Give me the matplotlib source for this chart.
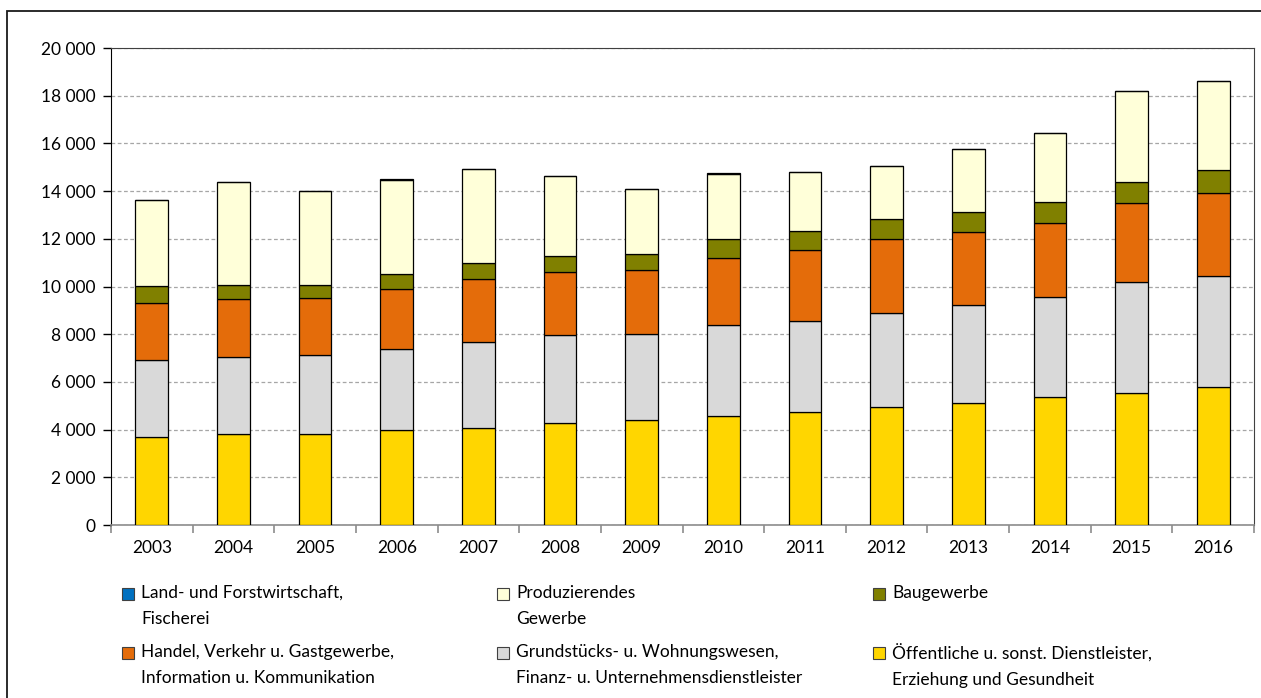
import matplotlib
matplotlib.use("Agg")
import matplotlib.pyplot as plt
import numpy as np
from matplotlib.patches import Rectangle
from matplotlib.ticker import FuncFormatter, FixedLocator

plt.rcParams["font.family"] = ["Lato", "DejaVu Sans"]

years = [str(y) for y in range(2003, 2017)]

# values (stack order bottom -> top)
oeffentliche = [3690, 3800, 3815, 3970, 4080, 4290, 4415, 4570, 4725, 4950, 5130, 5380, 5535, 5785]
grundstuecke = [3240, 3230, 3300, 3410, 3605, 3665, 3590, 3805, 3815, 3950, 4095, 4180, 4655, 4640]
handel = [2365, 2430, 2405, 2515, 2615, 2670, 2670, 2820, 2990, 3080, 3060, 3100, 3300, 3505]
bau = [725, 610, 555, 615, 670, 655, 685, 785, 795, 835, 840, 870, 880, 950]
produzierend = [3600, 4310, 3930, 3970, 3940, 3355, 2710, 2750, 2470, 2230, 2620, 2915, 3810, 3740]
land = [10, 10, 10, 10, 10, 10, 10, 10, 10, 10, 10, 10, 10, 10]

series = [
    ("Öffentliche u. sonst. Dienstleister,\nErziehung und Gesundheit", oeffentliche, "#FFD600"),
    ("Grundstücks- u. Wohnungswesen,\nFinanz- u. Unternehmensdienstleister", grundstuecke, "#D9D9D9"),
    ("Handel, Verkehr u. Gastgewerbe,\nInformation u. Kommunikation", handel, "#E46C0A"),
    ("Baugewerbe", bau, "#808000"),
    ("Produzierendes\nGewerbe", produzierend, "#FFFFD9"),
    ("Land- und Forstwirtschaft,\nFischerei", land, "#0070C0"),
]

W, H = 1261, 698
fig = plt.figure(figsize=(W / 100, H / 100), dpi=100)
ax = fig.add_axes([111 / W, 1 - 525 / H, (1254 - 111) / W, (525 - 48) / H])

# outer frame
fig.patches.append(Rectangle((7 / W, -0.05), 1.2, 1 - 11 / H + 0.05,
                             transform=fig.transFigure, fill=False,
                             edgecolor="#1a1a1a", linewidth=1.3))

x = np.arange(len(years))
bottom = np.zeros(len(years))
for name, vals, col in series:
    vals = np.array(vals, dtype=float)
    ax.bar(x, vals, 0.4, bottom=bottom, color=col, edgecolor="black",
           linewidth=0.9, zorder=3)
    bottom += vals

ax.set_xlim(-0.5, len(years) - 0.5)
ax.set_ylim(0, 20000)
ax.set_yticks(np.arange(0, 20001, 2000))
ax.yaxis.set_major_formatter(FuncFormatter(lambda v, p: f"{int(v):,}".replace(",", " ")))
ax.grid(axis="y", linestyle=(0, (3, 2)), color="#A6A6A6", linewidth=0.9, zorder=0)

ax.set_xticks(x)
ax.set_xticklabels(years)
ax.xaxis.set_minor_locator(FixedLocator(np.arange(-0.5, len(years), 1.0)))
ax.tick_params(axis="x", which="major", length=0, pad=11, labelsize=12.5)
ax.tick_params(axis="x", which="minor", length=6, color="#8c8c8c", width=1.2)
ax.tick_params(axis="y", length=6, width=1, pad=5, labelsize=12.5)

ax.spines["left"].set_color("black")
ax.spines["bottom"].set_color("#8c8c8c")
ax.spines["bottom"].set_linewidth(1.2)
ax.spines["top"].set_color("#404040")
ax.spines["right"].set_color("#404040")

# legend: 3 columns x 2 rows, square aligned with first text line
legend_order = [series[5], series[4], series[3], series[2], series[1], series[0]]
col_x = [122, 497, 873]
row_y = [594, 653]
for k, (name, _, col) in enumerate(legend_order):
    cx = col_x[k % 3]
    cy = row_y[k // 3]
    fig.patches.append(Rectangle((cx / W, 1 - (cy + 6) / H), 12 / W, 12 / H,
                                 transform=fig.transFigure, facecolor=col,
                                 edgecolor="#404040", linewidth=0.8))
    fig.text((cx + 19) / W, 1 - (cy - 9) / H, name, ha="left", va="top",
             fontsize=12.5, linespacing=1.75)

fig.savefig("out.png", dpi=100)
